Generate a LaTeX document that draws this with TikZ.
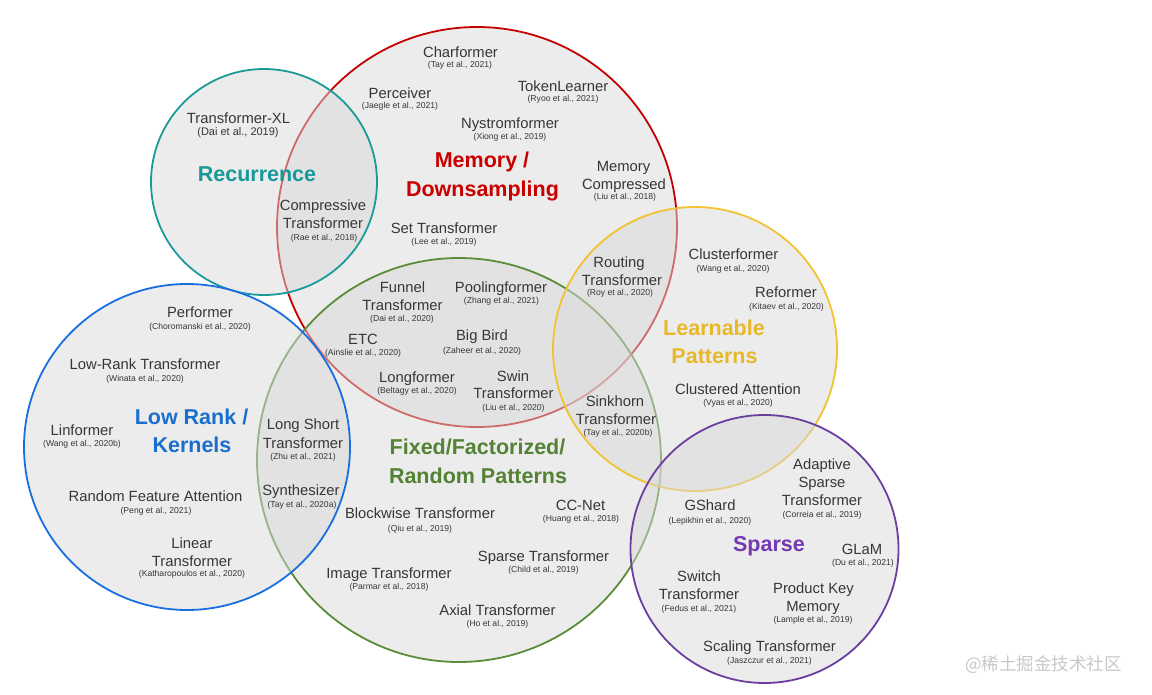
\documentclass[tikz,border=0pt]{standalone}
\usepackage{fontspec}
\setmainfont{Liberation Sans}
\newfontfamily\cjkfont{Noto Sans CJK SC}
\definecolor{txt}{HTML}{363636}
\definecolor{fillg}{HTML}{D9D9D9}
\definecolor{cteal}{HTML}{1B9A9A}
\definecolor{tteal}{HTML}{17999A}
\definecolor{cred}{HTML}{C40000}
\definecolor{tred}{HTML}{C80000}
\definecolor{cgreen}{HTML}{5B8C3A}
\definecolor{tgreen}{HTML}{548235}
\definecolor{cblue}{HTML}{1A6FE0}
\definecolor{tblue}{HTML}{1A6FCC}
\definecolor{cyellow}{HTML}{F1C232}
\definecolor{tyellow}{HTML}{E8B828}
\definecolor{cpurple}{HTML}{6B3FA0}
\definecolor{tpurple}{HTML}{7438B0}
\definecolor{wmark}{HTML}{C8C8C8}
\begin{document}
\begin{tikzpicture}[x=1pt,y=-1pt,
  ring/.style={circle,inner sep=0pt,line width=1.8pt,fill=fillg,fill opacity=0.5},
  lab/.style={anchor=base,inner sep=0pt,text=txt,font=\fontsize{14.8}{18}\selectfont},
  cit/.style={anchor=base,inner sep=0pt,text=txt,font=\fontsize{8.6}{10}\selectfont},
  bigcit/.style={anchor=base,inner sep=0pt,text=txt,font=\fontsize{11}{13}\selectfont},
  head/.style={anchor=base,inner sep=0pt,font=\fontsize{21.5}{28}\selectfont\bfseries}]
\path[use as bounding box] (0,0) rectangle (1152,695);
% circles
\node[ring,draw=cred,minimum size=400pt] (cmem) at (477,227) {};
\node[ring,draw=cgreen,minimum size=404pt] (cfix) at (459,460) {};
\node[ring,draw=cteal,minimum size=226pt] (crec) at (264,182) {};
\node[ring,draw=cblue,minimum size=326pt] (clow) at (187,447) {};
\node[ring,draw=cyellow,minimum size=284pt] (clearn) at (695,349) {};
\node[ring,draw=cpurple,minimum size=268pt] (csparse) at (764.5,549) {};
% Recurrence
\node[lab] (txl) at (238.5,124) {Transformer-XL};
\node[bigcit] (txlc) at (238,136) {(Dai et al., 2019)};
\node[head,text=tteal] (hrec) at (257,182) {Recurrence};
\node[lab] (comp1) at (323,211) {Compressive};
\node[lab] (comp2) at (323,229) {Transformer};
\node[cit] (compc) at (324,240.5) {(Rae et al., 2018)};
% Memory
\node[lab] (char) at (460.5,58) {Charformer};
\node[cit] (charc) at (460,68) {(Tay et al., 2021)};
\node[lab] (perc) at (400,99) {Perceiver};
\node[cit] (percc) at (400,109) {(Jaegle et al., 2021)};
\node[lab] (tok) at (563,92) {TokenLearner};
\node[cit] (tokc) at (563,101.5) {(Ryoo et al., 2021)};
\node[lab] (nys) at (510,129) {Nystromformer};
\node[cit] (nysc) at (510,140) {(Xiong et al., 2019)};
\node[head,text=tred] (hmem1) at (482,168) {Memory /};
\node[head,text=tred] (hmem2) at (482.5,197) {Downsampling};
\node[lab] (mc1) at (623.5,172) {Memory};
\node[lab] (mc2) at (624,190) {Compressed};
\node[cit] (mcc) at (625,200) {(Liu et al., 2018)};
\node[lab] (set) at (444,234) {Set Transformer};
\node[cit] (setc) at (444,245) {(Lee et al., 2019)};
% Learnable
\node[lab] (rt1) at (619,268) {Routing};
\node[lab] (rt2) at (622,286) {Transformer};
\node[cit] (rtc) at (620,295) {(Roy et al., 2020)};
\node[lab] (clu) at (733.5,260) {Clusterformer};
\node[cit] (cluc) at (733,272) {(Wang et al., 2020)};
\node[lab] (ref) at (786,298) {Reformer};
\node[cit] (refc) at (786.5,309) {(Kitaev et al., 2020)};
\node[head,text=tyellow] (hlearn1) at (714,335) {Learnable};
\node[head,text=tyellow] (hlearn2) at (714.5,363) {Patterns};
\node[lab] (cla) at (738,394) {Clustered Attention};
\node[cit] (clac) at (738,405) {(Vyas et al., 2020)};
\node[lab] (sink1) at (615,406) {Sinkhorn};
\node[lab] (sink2) at (616,424) {Transformer};
\node[cit] (sinkc) at (618,435) {(Tay et al., 2020b)};
% Low rank
\node[lab] (perf) at (200,318) {Performer};
\node[cit] (perfc) at (200,329) {(Choromanski et al., 2020)};
\node[lab] (lrt) at (145,369) {Low-Rank Transformer};
\node[cit] (lrtc) at (145,381) {(Winata et al., 2020)};
\node[head,text=tblue] (hlow1) at (191.5,424) {Low Rank /};
\node[head,text=tblue] (hlow2) at (192,452) {Kernels};
\node[lab] (linf) at (82,435) {Linformer};
\node[cit] (linfc) at (82,446) {(Wang et al., 2020b)};
\node[lab] (rfa) at (155.5,501) {Random Feature Attention};
\node[cit] (rfac) at (156,513) {(Peng et al., 2021)};
\node[lab] (lin1) at (192,548) {Linear};
\node[lab] (lin2) at (192,566) {Transformer};
\node[cit] (linc) at (192,576) {(Katharopoulos et al., 2020)};
\node[lab] (ls1) at (303,429) {Long Short};
\node[lab] (ls2) at (303,448) {Transformer};
\node[cit] (lsc) at (303,459) {(Zhu et al., 2021)};
\node[lab] (syn) at (301,495) {Synthesizer};
\node[cit] (sync) at (302,507) {(Tay et al., 2020a)};
% Fixed
\node[lab] (fun1) at (402.5,293) {Funnel};
\node[lab] (fun2) at (402.5,311) {Transformer};
\node[cit] (func) at (402,322) {(Dai et al., 2020)};
\node[lab] (pool) at (501,293) {Poolingformer};
\node[cit] (poolc) at (501.5,304) {(Zhang et al., 2021)};
\node[lab] (etc) at (363,344) {ETC};
\node[cit] (etcc) at (363,355) {(Ainslie et al., 2020)};
\node[lab] (bb) at (482,341) {Big Bird};
\node[cit] (bbc) at (482,353) {(Zaheer et al., 2020)};
\node[lab] (long) at (417,382) {Longformer};
\node[cit] (longc) at (417,393) {(Beltagy et al., 2020)};
\node[lab] (swin1) at (513,381) {Swin};
\node[lab] (swin2) at (513.5,398) {Transformer};
\node[cit] (swinc) at (513.5,410) {(Liu et al., 2020)};
\node[head,text=tgreen] (hfix1) at (477.5,454) {Fixed/Factorized/};
\node[head,text=tgreen] (hfix2) at (478,483) {Random Patterns};
\node[lab] (blk) at (420,518) {Blockwise Transformer};
\node[cit] (blkc) at (420,531) {(Qiu et al., 2019)};
\node[lab] (cc) at (580.5,510) {CC-Net};
\node[cit] (ccc) at (581,521) {(Huang et al., 2018)};
\node[lab] (spt) at (543.5,561) {Sparse Transformer};
\node[cit] (sptc) at (543.5,572) {(Child et al., 2019)};
\node[lab] (img) at (389,578) {Image Transformer};
\node[cit] (imgc) at (389,589) {(Parmar et al., 2018)};
\node[lab] (ax) at (497.5,615) {Axial Transformer};
\node[cit] (axc) at (497.5,626) {(Ho et al., 2019)};
% Sparse
\node[lab] (ad1) at (822,469) {Adaptive};
\node[lab] (ad2) at (822,487) {Sparse};
\node[lab] (ad3) at (822,505) {Transformer};
\node[cit] (adc) at (822,517) {(Correia et al., 2019)};
\node[lab] (gsh) at (710,510) {GShard};
\node[cit] (gshc) at (710,523) {(Lepikhin et al., 2020)};
\node[head,text=tpurple] (hsparse) at (769,551) {Sparse};
\node[lab] (glam) at (862,554) {GLaM};
\node[cit] (glamc) at (863,565) {(Du et al., 2021)};
\node[lab] (sw1) at (699,581) {Switch};
\node[lab] (sw2) at (699,599) {Transformer};
\node[cit] (swc) at (699,611) {(Fedus et al., 2021)};
\node[lab] (pk1) at (813.5,593) {Product Key};
\node[lab] (pk2) at (813,611) {Memory};
\node[cit] (pkc) at (813,622) {(Lample et al., 2019)};
\node[lab] (sc) at (769.5,651) {Scaling Transformer};
\node[cit] (scc) at (769.5,663) {(Jaszczur et al., 2021)};
% watermark
\node[anchor=base,inner sep=0pt,text=wmark,font=\cjkfont\fontsize{17.5}{20}\selectfont] (wm) at (1043.5,670) {@稀土掘金技术社区};
\end{tikzpicture}
\end{document}
